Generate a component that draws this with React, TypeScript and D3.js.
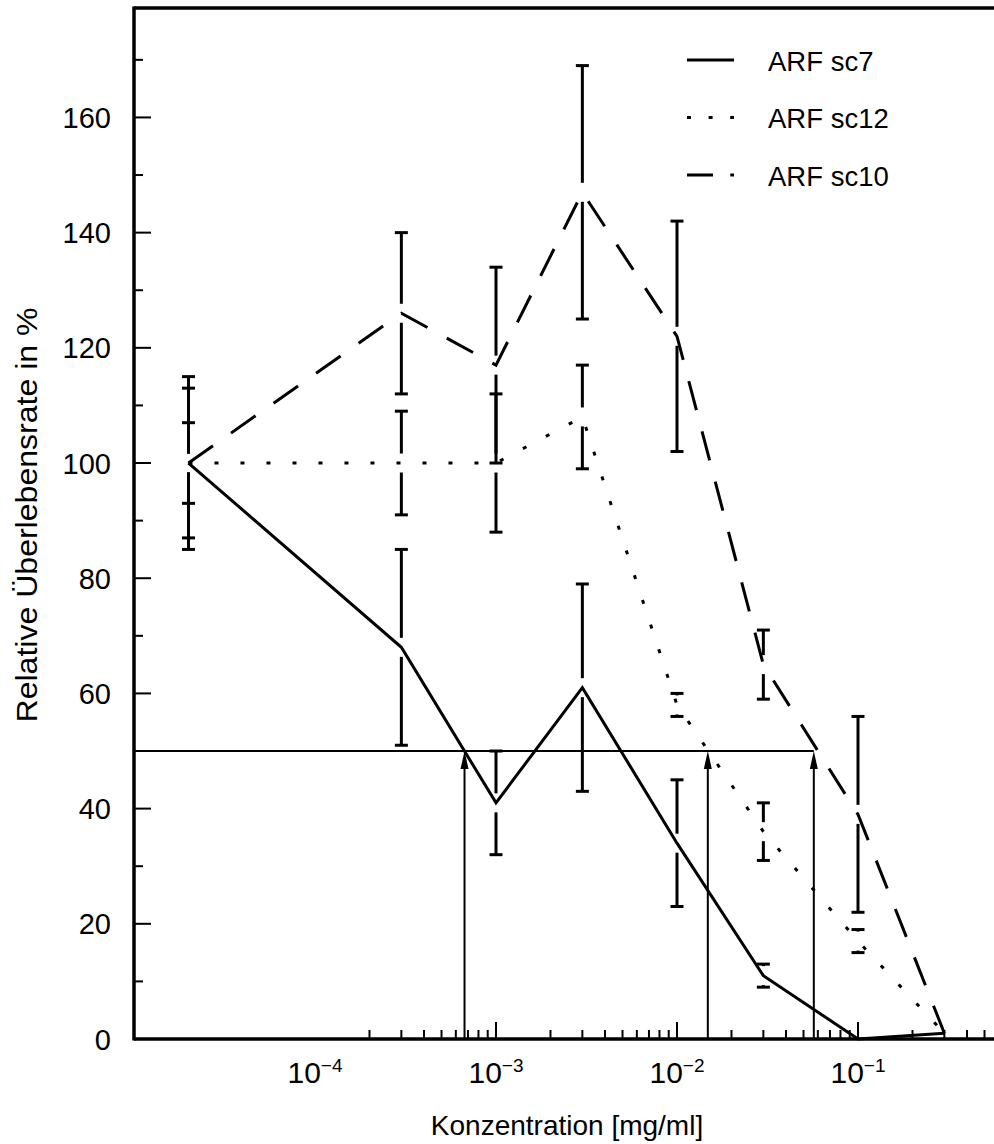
import React from "react";
import * as d3 from "d3";

// concentrations in mg/ml
const doses = [2e-5, 3e-4, 1e-3, 3e-3, 1e-2, 3e-2, 1e-1, 3e-1];

const sc7Values = [100, 68, 41, 61, 34, 11, 0, 1];
const sc7Errors = [13, 17, 9, 18, 11, 2, 0, 0];

const sc12Values = [100, 100, 100, 108, 58, 36, 17, 1];
const sc12Errors = [7, 9, 12, 9, 2, 5, 2, 0];

const sc10Values = [100, 126, 117, 147, 122, 65, 39, 1];
const sc10Errors = [15, 14, 17, 22, 20, 6, 17, 0];

const seriesNames = ["ARF sc7", "ARF sc12", "ARF sc10"];

// IC50 readings (arrows up to the 50 % line)
const ec50Level = 50;
const ec50Doses = [6.7e-4, 1.48e-2, 5.7e-2];

const yTickValues = [0, 20, 40, 60, 80, 100, 120, 140, 160];
const xLabelExponents = [-4, -3, -2, -1];

const W = 994;
const H = 1144;
const left = 134;
const right = 1039;
const top = 8;
const bottom = 1039;

const FONT = "'Liberation Sans', Arial, Helvetica, sans-serif";

const dashes: Record<string, string | undefined> = {
  "ARF sc7": undefined,
  "ARF sc12": "4 22",
  "ARF sc10": "30 22",
};
const legendDashes: Record<string, string | undefined> = {
  "ARF sc7": undefined,
  "ARF sc12": "4 17.6",
  "ARF sc10": "26 17.3",
};

export default function App() {
  const x = d3.scaleLog().domain([1e-5, 1]).range([left, right]);
  const y = d3.scaleLinear().domain([0, 179]).range([bottom, top]);

  const series = [
    { name: seriesNames[0], values: sc7Values, errors: sc7Errors },
    { name: seriesNames[1], values: sc12Values, errors: sc12Errors },
    { name: seriesNames[2], values: sc10Values, errors: sc10Errors },
  ];

  const line = d3
    .line<number>()
    .x((_, i) => x(doses[i]))
    .y((v) => y(v));

  // minor x ticks, only from 2e-4 on
  const minorX: number[] = [];
  for (let e = -4; e <= -1; e++) {
    for (let k = 2; k <= 9; k++) minorX.push(k * Math.pow(10, e));
  }
  const majorX = [1e-3, 1e-2, 1e-1];
  const minorY = d3.range(10, 180, 20);

  const gap = 9.5;
  const capHalf = 6.5;

  return (
    <svg
      width={W}
      height={H}
      style={{ position: "absolute", left: 0, top: 0, background: "#fff" }}
      fontFamily={FONT}
    >
      {/* frame */}
      <line x1={left} x2={W + 10} y1={top} y2={top} stroke="#000" strokeWidth={3.5} />
      <line x1={left} x2={left} y1={top - 1.5} y2={bottom + 1.5} stroke="#000" strokeWidth={3.5} />
      <line x1={left} x2={W + 10} y1={bottom} y2={bottom} stroke="#000" strokeWidth={3.5} />

      {/* y ticks */}
      {yTickValues.map((v) => (
        <g key={"yt" + v}>
          <line x1={left} x2={left + 17} y1={y(v)} y2={y(v)} stroke="#000" strokeWidth={2} />
          <text x={111} y={y(v) + 10.5} fontSize={29} textAnchor="end">
            {v}
          </text>
        </g>
      ))}
      {minorY.map((v) => (
        <line key={"ym" + v} x1={left} x2={left + 9} y1={y(v)} y2={y(v)} stroke="#000" strokeWidth={2} />
      ))}

      {/* x ticks */}
      {minorX.map((v) => (
        <line key={"xm" + v} x1={x(v)} x2={x(v)} y1={bottom} y2={bottom - 9} stroke="#000" strokeWidth={2} />
      ))}
      {majorX.map((v) => (
        <line key={"xM" + v} x1={x(v)} x2={x(v)} y1={bottom} y2={bottom - 17} stroke="#000" strokeWidth={2} />
      ))}
      {xLabelExponents.map((e) => (
        <text key={"xl" + e} x={x(Math.pow(10, e))} y={1082.5} fontSize={30} textAnchor="middle">
          <tspan>10</tspan>
          <tspan dy={-11} fontSize={19}>
            {"\u2212" + Math.abs(e)}
          </tspan>
        </text>
      ))}

      {/* axis titles */}
      <text x={567} y={1135} fontSize={28} textAnchor="middle">
        Konzentration [mg/ml]
      </text>
      <text
        transform={`translate(37,515) rotate(-90)`}
        fontSize={30}
        textAnchor="middle"
        textLength={415}
        lengthAdjust="spacingAndGlyphs"
      >
        Relative Überlebensrate in %
      </text>

      {/* 50 % line and arrows */}
      <line
        x1={left}
        x2={x(ec50Doses[ec50Doses.length - 1])}
        y1={y(ec50Level)}
        y2={y(ec50Level)}
        stroke="#000"
        strokeWidth={2}
      />
      {ec50Doses.map((d) => {
        const ax = x(d);
        const ay = y(ec50Level);
        return (
          <g key={"ar" + d}>
            <line x1={ax} x2={ax} y1={bottom} y2={ay + 10} stroke="#000" strokeWidth={2} />
            <path d={`M${ax},${ay} L${ax - 4},${ay + 18} L${ax + 4},${ay + 18} Z`} fill="#000" />
          </g>
        );
      })}

      {/* error bars */}
      {series.map((s) =>
        s.values.map((v, i) => {
          const sd = s.errors[i];
          if (!sd) return null;
          const cx = x(doses[i]);
          const yc = y(v);
          const yHi = y(v + sd);
          const yLo = y(v - sd);
          return (
            <g key={s.name + "e" + i} stroke="#000" strokeWidth={3}>
              <line x1={cx} x2={cx} y1={yHi} y2={yc - gap} />
              <line x1={cx} x2={cx} y1={yc + gap} y2={yLo} />
              <line x1={cx - capHalf} x2={cx + capHalf} y1={yHi} y2={yHi} />
              <line x1={cx - capHalf} x2={cx + capHalf} y1={yLo} y2={yLo} />
            </g>
          );
        })
      )}

      {/* curves */}
      {series.map((s) => (
        <path
          key={s.name}
          d={line(s.values) || ""}
          fill="none"
          stroke="#000"
          strokeWidth={3}
          strokeDasharray={dashes[s.name]}
          strokeLinejoin="miter"
        />
      ))}

      {/* legend */}
      {seriesNames.map((n, i) => {
        const ly = 60 + i * 57.5;
        return (
          <g key={"lg" + n}>
            <line
              x1={687}
              x2={734}
              y1={ly}
              y2={ly}
              stroke="#000"
              strokeWidth={3}
              strokeDasharray={legendDashes[n]}
            />
            <text x={768} y={ly + 10.5} fontSize={27.5}>
              {n}
            </text>
          </g>
        );
      })}
    </svg>
  );
}
